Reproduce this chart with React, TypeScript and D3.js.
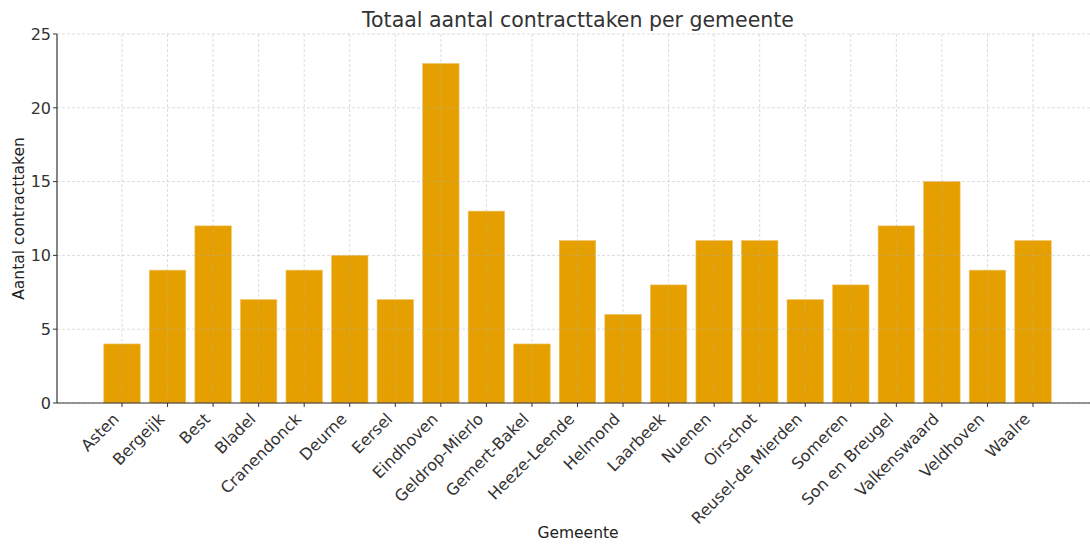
import React, { useRef, useEffect } from "react";
import * as d3 from "d3";

const gemeenten = [
  "Asten", "Bergeijk", "Best", "Bladel", "Cranendonck", "Deurne", "Eersel",
  "Eindhoven", "Geldrop-Mierlo", "Gemert-Bakel", "Heeze-Leende", "Helmond",
  "Laarbeek", "Nuenen", "Oirschot", "Reusel-de Mierden", "Someren",
  "Son en Breugel", "Valkenswaard", "Veldhoven", "Waalre",
];
const aantallen = [4, 9, 12, 7, 9, 10, 7, 23, 13, 4, 11, 6, 8, 11, 11, 7, 8, 12, 15, 9, 11];
const yTicks = [0, 5, 10, 15, 20, 25];

const width = 1090;
const height = 545;
const font = "DejaVu Sans, sans-serif";

const App = () => {
  const svgRef = useRef(null);

  useEffect(() => {
    document.body.style.margin = "0";
    const svg = d3.select(svgRef.current);
    svg.selectAll("*").remove();

    const left = 57;
    const right = 1099;
    const top = 34;
    const bottom = 403;

    // index -> pixel (bar centres)
    const x = d3.scaleLinear().domain([0, gemeenten.length - 1]).range([122, 1033]);
    const step = x(1) - x(0);
    const barW = step * 0.8;
    const y = d3.scaleLinear().domain([0, 25]).range([bottom, top]);

    // bars
    svg.append("g")
      .selectAll("rect")
      .data(aantallen)
      .enter()
      .append("rect")
      .attr("x", (d, i) => x(i) - barW / 2)
      .attr("y", (d) => y(d))
      .attr("width", barW)
      .attr("height", (d) => y(0) - y(d))
      .style("fill", "#e5a000")
      .style("stroke", "#f0c060")
      .style("stroke-width", 0.6);

    // grid
    const grid = svg.append("g")
      .style("stroke", "#b0b0b0")
      .style("stroke-opacity", 0.55)
      .style("stroke-width", 0.8)
      .style("stroke-dasharray", "3, 2");
    grid.selectAll("line.h")
      .data(yTicks)
      .enter()
      .append("line")
      .attr("x1", left).attr("x2", right)
      .attr("y1", (d) => y(d)).attr("y2", (d) => y(d));
    grid.selectAll("line.v")
      .data(gemeenten)
      .enter()
      .append("line")
      .attr("x1", (d, i) => x(i)).attr("x2", (d, i) => x(i))
      .attr("y1", top).attr("y2", bottom);

    // spines
    svg.append("line")
      .attr("x1", left).attr("x2", left).attr("y1", top).attr("y2", bottom)
      .style("stroke", "#333").style("stroke-width", 1.2);
    svg.append("line")
      .attr("x1", left).attr("x2", right).attr("y1", bottom).attr("y2", bottom)
      .style("stroke", "#333").style("stroke-width", 1.2);

    // y ticks
    const yt = svg.append("g");
    yt.selectAll("line")
      .data(yTicks)
      .enter()
      .append("line")
      .attr("x1", left - 4).attr("x2", left)
      .attr("y1", (d) => y(d)).attr("y2", (d) => y(d))
      .style("stroke", "#333");
    yt.selectAll("text")
      .data(yTicks)
      .enter()
      .append("text")
      .attr("x", left - 6)
      .attr("y", (d) => y(d))
      .attr("dy", "0.36em")
      .attr("text-anchor", "end")
      .style("font-family", font)
      .style("font-size", "16px")
      .style("fill", "#333")
      .text((d) => d);

    // x ticks
    const xt = svg.append("g");
    xt.selectAll("line")
      .data(gemeenten)
      .enter()
      .append("line")
      .attr("x1", (d, i) => x(i)).attr("x2", (d, i) => x(i))
      .attr("y1", bottom).attr("y2", bottom + 4)
      .style("stroke", "#333");
    xt.selectAll("text")
      .data(gemeenten)
      .enter()
      .append("text")
      .attr("transform", (d, i) => `translate(${x(i) - 2}, ${bottom + 17}) rotate(-45)`)
      .attr("text-anchor", "end")
      .style("font-family", font)
      .style("font-size", "16px")
      .style("fill", "#333")
      .text((d) => d);

    // title + labels
    svg.append("text")
      .attr("x", (left + right) / 2).attr("y", 27)
      .attr("text-anchor", "middle")
      .style("font-family", font).style("font-size", "20.5px").style("fill", "#333")
      .text("Totaal aantal contracttaken per gemeente");
    svg.append("text")
      .attr("x", (left + right) / 2).attr("y", 538)
      .attr("text-anchor", "middle")
      .style("font-family", font).style("font-size", "15.5px").style("fill", "#222")
      .text("Gemeente");
    svg.append("text")
      .attr("transform", `translate(24, ${(top + bottom) / 2}) rotate(-90)`)
      .attr("text-anchor", "middle")
      .style("font-family", font).style("font-size", "15.5px").style("fill", "#222")
      .text("Aantal contracttaken");
  }, []);

  return (
    <div>
      <svg ref={svgRef} width={width} height={height} style={{ display: "block" }}></svg>
    </div>
  );
};

export default App;
